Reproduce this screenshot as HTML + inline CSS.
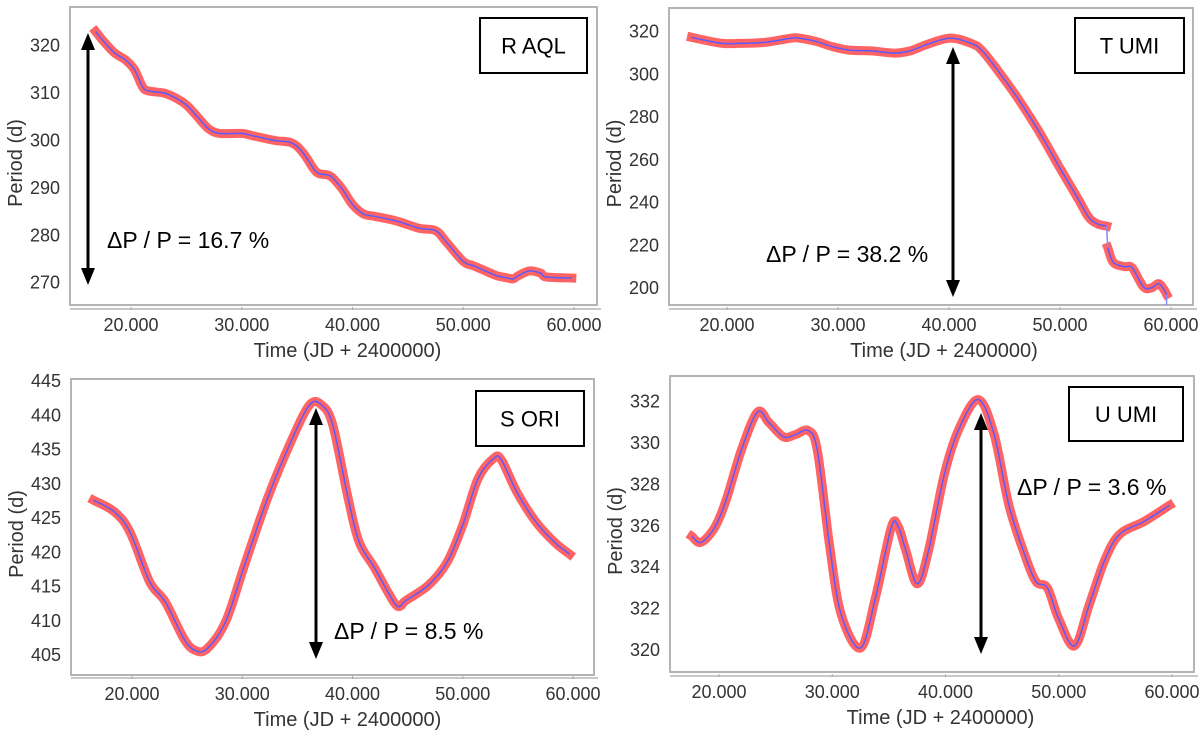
<!DOCTYPE html>
<html><head><meta charset="utf-8"><style>
html,body{margin:0;padding:0;background:#fff;}
svg{display:block;font-family:"Liberation Sans",sans-serif;}
</style></head><body>
<svg id="fig" width="1200" height="731" viewBox="0 0 1200 731" xmlns="http://www.w3.org/2000/svg"></svg>
<script>
// ---- data ----
const raqlT = [16.8,17.5,18.5,19.5,20.3,21,21.5,23,24,25,26,27,28,30,31,33,34.5,35.5,36.5,37,38,39,40,41,42,44,46,47.5,48.5,50,51,52,53,54,54.5,55,56,57,57.5,59.8];
const raqlP = [323,321,318.5,317,315,311.5,310.5,310,309,307.5,305,302.5,301.5,301.5,301,300,299.5,297.5,294,293,292.5,290,286.5,284.5,284,283,281.5,281,278.5,274.5,273.5,272.5,271.5,271,270.8,271.5,272.5,272,271.2,271];
const tumiT1 = [16.8,18,19.6,21,23.4,25.8,26.5,28,29.5,31,33,35.1,36.5,38,40.1,42,43,44.8,46.5,48.2,49.9,51.6,52.6,53.4,54.2];
const tumiP1 = [317.4,316,314.5,314.5,315,317,317,315.5,313,311.4,311,310,311,314,317,314.5,311,299,286.5,272.5,257,242,233,230,229];
const tumiT2 = [54.3,54.8,55.8,56.5,57.5,58.2,58.9,59.4,59.6];
const tumiP2 = [219,212,210,209.5,200.6,200,202,199,197];
const soriT = [16.5,18.4,19.8,21.6,23,24.7,25.7,26.8,28.5,30.2,32.3,34.4,36.1,37.2,38.2,39.6,40.6,42,43.8,44.4,44.8,46.9,48.6,50,51.4,52.8,53.5,54.9,56.6,58.3,59.7];
const soriP = [427.6,425.9,423,415.7,412.8,407.4,405.7,405.9,409.9,418.1,427.9,436.1,441.5,441.5,438.6,427.9,421.5,417.7,412.6,412.2,412.9,415.2,418.6,424,430.8,433.7,433.5,428.8,424.5,421.5,419.7];
const uumiT = [17.6,18.4,19.6,20.6,22,23.4,24.4,25.7,26.7,27.9,28.7,29.8,30.8,32.5,33.8,35.2,35.8,36.5,37.5,38.5,39.9,41.2,42.9,44.3,45.6,47,48,49,50,51.4,52.7,54.1,55.4,57.5,59.8];
const uumiP = [325.5,325.2,325.9,327.2,329.7,331.5,331,330.3,330.4,330.6,329.6,324.9,321.7,320.1,322.5,325.9,326,324.8,323.2,324.8,328.5,330.7,332.1,330.4,327,324.6,323.3,323,321.5,320.2,322.2,324.4,325.6,326.2,327];
const xTicks = [20,30,40,50,60];
const xTickLabels = ["20.000","30.000","40.000","50.000","60.000"];
const raqlTicks = [270,280,290,300,310,320];
const tumiTicks = [200,220,240,260,280,300,320];
const soriTicks = [405,410,415,420,425,430,435,440,445];
const uumiTicks = [320,322,324,326,328,330,332];

const NS = "http://www.w3.org/2000/svg";
const svg = document.getElementById('fig');
function mk(tag, attrs, parent){const e=document.createElementNS(NS,tag);for(const k in attrs)e.setAttribute(k,attrs[k]);(parent||svg).appendChild(e);return e;}
function lin(d0,d1,r0,r1){return v=>r0+(v-d0)*(r1-r0)/(d1-d0);}
function smoothPath(P){
  let d='M'+P[0][0].toFixed(1)+','+P[0][1].toFixed(1);
  for(let i=0;i<P.length-1;i++){
    const p0=P[Math.max(0,i-1)],p1=P[i],p2=P[i+1],p3=P[Math.min(P.length-1,i+2)];
    const c1x=p1[0]+(p2[0]-p0[0])/6,c1y=p1[1]+(p2[1]-p0[1])/6;
    const c2x=p2[0]-(p3[0]-p1[0])/6,c2y=p2[1]-(p3[1]-p1[1])/6;
    d+=` C${c1x.toFixed(1)},${c1y.toFixed(1)} ${c2x.toFixed(1)},${c2y.toFixed(1)} ${p2[0].toFixed(1)},${p2[1].toFixed(1)}`;
  }
  return d;
}

function panel(cfg){
  const g = mk('g',{});
  
  
  const sx = lin(20,60,cfg.x20,cfg.x60);
  const sy = lin(cfg.yv0,cfg.yv1,cfg.yp0,cfg.yp1);
  const box = mk('rect',{x:cfg.bx,y:cfg.by,width:cfg.bw,height:cfg.bh,fill:'#fff',stroke:'#b4b4b4','stroke-width':2},g);
  
  
  const ax = mk('line',{x1:cfg.bx,x2:cfg.bx+cfg.bw+4,y1:cfg.axY,y2:cfg.axY,stroke:'#c8c8c8','stroke-width':2},g);
  
  
  xTicks.forEach((t,i)=>{
    const X=sx(t);
    mk('line',{x1:X,x2:X,y1:cfg.axY-2,y2:cfg.axY+1,stroke:'#aaa','stroke-width':1},g);
    const tx = mk('text',{x:X,y:cfg.axY+22,'font-size':18,fill:'#333','text-anchor':'middle'},g);
    tx.textContent = xTickLabels[i];
    
    
  });
  cfg.ticks.forEach(t=>{
    const Y=sy(t);
    const ty = mk('text',{x:cfg.bx-10,y:Y+6,'font-size':18,fill:'#333','text-anchor':'end'},g);
    ty.textContent = String(t);
    
    
  });
  const xt = mk('text',{x:(cfg.x20+cfg.x60)/2-5,y:cfg.axY+48,'font-size':20,fill:'#333','text-anchor':'middle'},g);
  xt.textContent = 'Time (JD + 2400000)';
  
  
  const cy = cfg.by+cfg.bh/2;
  const yt = mk('text',{x:cfg.bx-55,y:cy,'font-size':20,fill:'#333','text-anchor':'middle',transform:`rotate(-90 ${cfg.bx-48} ${cy})`},g);
  yt.textContent = 'Period (d)';
  
  
  cfg.series.forEach(s=>{
    const P = s.t.map((t,i)=>[sx(t),sy(s.p[i])]);
    const d = smoothPath(P);
    const r = mk('path',{d:d,fill:'none',stroke:'#ff5252','stroke-width':9,'stroke-linejoin':'round','stroke-linecap':'square',opacity:0.9},g);
    
    
    const b = mk('path',{d:d,fill:'none',stroke:'#5b5bff','stroke-width':1.5},g);
    
    
  });
  if(cfg.connect){
    const a=cfg.series[0], c=cfg.series[1];
    mk('line',{x1:sx(a.t[a.t.length-1]),y1:sy(a.p[a.p.length-1]),x2:sx(c.t[0]),y2:sy(c.p[0]),stroke:'#8888ff','stroke-width':1.5},g);
    const lt=c.t[c.t.length-1], lp=c.p[c.p.length-1];
    mk('line',{x1:sx(lt),y1:sy(lp),x2:sx(lt),y2:cfg.by+cfg.bh,stroke:'#8888ff','stroke-width':1.5},g);
  }
  const lb = mk('rect',{x:cfg.lx,y:cfg.ly,width:cfg.lw,height:cfg.lh,fill:'#fff',stroke:'#000','stroke-width':2},g);
  
  
  const lt = mk('text',{x:cfg.lx+cfg.lw/2,y:cfg.ly+cfg.lh/2+8,'font-size':22,fill:'#000','text-anchor':'middle'},g);
  lt.textContent = cfg.label;
  
  
  const A = mk('g',{},g);
  
  
  mk('line',{x1:cfg.ax,x2:cfg.ax,y1:cfg.ay0+14,y2:cfg.ay1-14,stroke:'#000','stroke-width':3},A);
  mk('polygon',{points:`${cfg.ax},${cfg.ay0} ${cfg.ax-7},${cfg.ay0+17} ${cfg.ax+7},${cfg.ay0+17}`,fill:'#000'},A);
  mk('polygon',{points:`${cfg.ax},${cfg.ay1} ${cfg.ax-7},${cfg.ay1-17} ${cfg.ax+7},${cfg.ay1-17}`,fill:'#000'},A);
  const at = mk('text',{x:cfg.tx,y:cfg.ty,'font-size':23,fill:'#000'},g);
  at.textContent = cfg.ann;
  
  
}

panel({name:'r-aql',bx:70,by:7,bw:527,bh:298,axY:309,x20:131,x60:574,yv0:320,yv1:270,yp0:45.7,yp1:282.7,ticks:raqlTicks,
  series:[{t:raqlT,p:raqlP}],label:'R AQL',lx:480,ly:18,lw:107,lh:55,ax:88,ay0:33,ay1:285,tx:107,ty:248,ann:'ΔP / P = 16.7 %'});
panel({name:'t-umi',bx:669,by:8,bw:524,bh:297,axY:309,x20:727,x60:1171,yv0:320,yv1:200,yp0:31.7,yp1:288,ticks:tumiTicks,
  series:[{t:tumiT1,p:tumiP1},{t:tumiT2,p:tumiP2}],connect:true,label:'T UMI',lx:1075,ly:18,lw:109,lh:55,ax:953,ay0:47,ay1:297,tx:766,ty:262,ann:'ΔP / P = 38.2 %'});
panel({name:'s-ori',bx:71,by:379,bw:523,bh:296,axY:678,x20:132,x60:573,yv0:445,yv1:405,yp0:381,yp1:655,ticks:soriTicks,
  series:[{t:soriT,p:soriP}],label:'S ORI',lx:476,ly:391,lw:108,lh:55,ax:316,ay0:408,ay1:659,tx:334,ty:639,ann:'ΔP / P = 8.5 %'});
panel({name:'u-umi',bx:670,by:376,bw:524,bh:296,axY:676,x20:719,x60:1172,yv0:332,yv1:320,yp0:401.7,yp1:650,ticks:uumiTicks,
  series:[{t:uumiT,p:uumiP}],label:'U UMI',lx:1069,ly:387,lw:114,lh:54,ax:981,ay0:413,ay1:654,tx:1017,ty:495,ann:'ΔP / P = 3.6 %'});
</script>
</body></html>
